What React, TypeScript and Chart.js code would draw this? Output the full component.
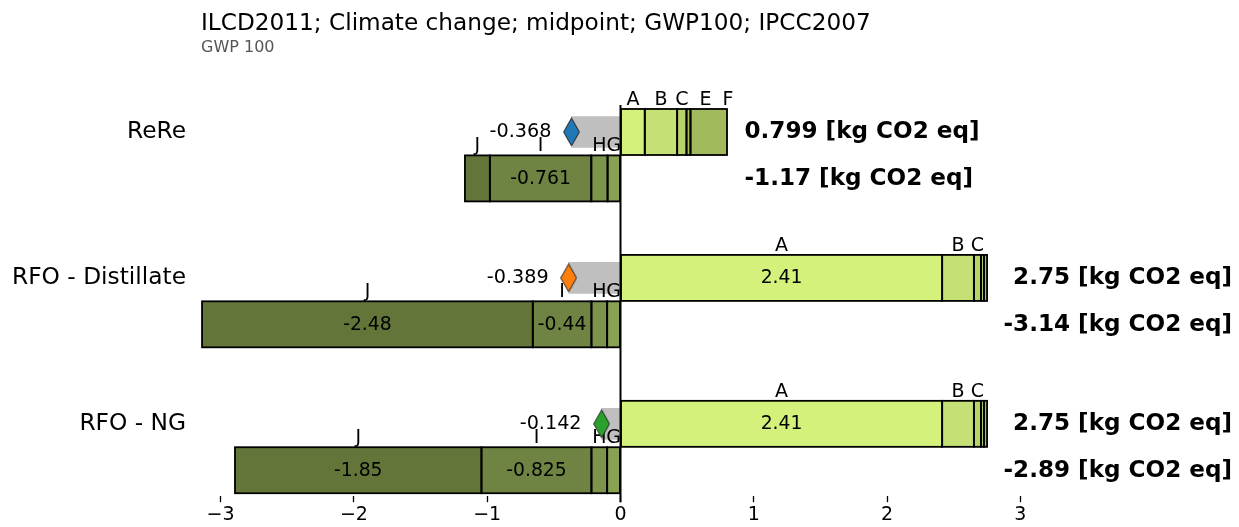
import React, { useEffect, useRef } from 'react';
import { Chart, registerables } from 'chart.js';

Chart.register(...registerables);

const TITLE = 'ILCD2011; Climate change; midpoint; GWP100; IPCC2007';
const SUBTITLE = 'GWP 100';
const UNIT = '[kg CO2 eq]';

const products = ['ReRe', 'RFO - Distillate', 'RFO - NG'];
const posLetters = ['A', 'B', 'C', 'D', 'E', 'F'];
const negLetters = ['G', 'H', 'I', 'J'];

const reRePos = [0.182, 0.243, 0.07, 0, 0.03, 0.274];
const reReNeg = [-0.097, -0.122, -0.761, -0.187];
const distillatePos = [2.413, 0.238, 0.053, 0.023, 0.023, 0];
const distillateNeg = [-0.1, -0.118, -0.44, -2.481];
const ngPos = [2.413, 0.238, 0.053, 0.023, 0.023, 0];
const ngNeg = [-0.1, -0.118, -0.825, -1.849];

const posValues = [reRePos, distillatePos, ngPos];
const negValues = [reReNeg, distillateNeg, ngNeg];

const xTicks = [-3, -2, -1, 0, 1, 2, 3];
const netColors = ['#1f77b4', '#ff7f0e', '#2ca02c'];
const letterColors: Record<string, string> = {
  A: '#d4f27b', B: '#c5e175', C: '#b7d46b', D: '#aac864', E: '#a6bf5f', F: '#a1ba5d',
  G: '#88a153', H: '#7d944d', I: '#6f8343', J: '#637538',
};

const X_MIN = -3.147;
const X_MAX = 3.147;
const Y_MIN = -0.344;
const Y_MAX = 2.337;
const ROW_OFFSET = 0.159;
const FONT = "'DejaVu Sans', sans-serif";
const W = 1239;
const H = 527;

const sum = (a: number[]) => a.reduce((s, v) => s + v, 0);
const fmt3 = (v: number) => String(Number(v.toPrecision(3)));

type Seg = { x: [number, number]; y: number; letter: string; value: number; total: number; color: string; row: string; pos: boolean };
const segs: Seg[] = [];
products.forEach((p, i) => {
  const totP = sum(posValues[i]);
  const totN = sum(negValues[i]);
  let acc = 0;
  posValues[i].forEach((v, j) => {
    if (v === 0) return;
    segs.push({ x: [acc, acc + v], y: i - ROW_OFFSET, letter: posLetters[j], value: v, total: totP, color: letterColors[posLetters[j]], row: i + 'p', pos: true });
    acc += v;
  });
  acc = 0;
  negValues[i].forEach((v, j) => {
    if (v === 0) return;
    segs.push({ x: [acc, acc + v], y: i + ROW_OFFSET, letter: negLetters[j], value: v, total: totN, color: letterColors[negLetters[j]], row: i + 'n', pos: false });
    acc += v;
  });
});
const nets = products.map((p, i) => sum(posValues[i]) + sum(negValues[i]));

function makeDiamond(color: string) {
  const c = document.createElement('canvas');
  c.width = 17;
  c.height = 29;
  const g = c.getContext('2d')!;
  g.beginPath();
  g.moveTo(8.5, 0.6);
  g.lineTo(16.4, 14.5);
  g.lineTo(8.5, 28.4);
  g.lineTo(0.6, 14.5);
  g.closePath();
  g.fillStyle = color;
  g.fill();
  g.lineWidth = 1;
  g.strokeStyle = '#222';
  g.stroke();
  return c;
}

const annot = {
  id: 'annot',
  afterDatasetDraw(chart: any, args: any) {
    if (args.index !== 0) return;
    const { ctx, chartArea, scales } = chart;
    const xs = scales.x;
    const meta = chart.getDatasetMeta(0);
    ctx.save();
    const geo = meta.data.map((el: any) => {
      const p = el.getProps(['x', 'y', 'base', 'height'], true);
      return { l: Math.min(p.x, p.base), r: Math.max(p.x, p.base), y: p.y, h: p.height };
    });
    ctx.strokeStyle = '#000';
    ctx.lineWidth = 1.8;
    geo.forEach((g: any) => ctx.strokeRect(g.l, g.y - g.h / 2, g.r - g.l, g.h));
    const x0 = xs.getPixelForValue(0);
    ctx.lineWidth = 2;
    ctx.beginPath();
    ctx.moveTo(x0, chartArea.top);
    ctx.lineTo(x0, chartArea.bottom + 6);
    ctx.stroke();

    ctx.fillStyle = '#000';
    ctx.textAlign = 'center';
    ctx.textBaseline = 'alphabetic';
    const PAD = 11;
    const TOL = 3;
    let prevRow = '';
    let prevEdge: number | null = null;
    segs.forEach((s, k) => {
      const g = geo[k];
      if (s.row !== prevRow) { prevRow = s.row; prevEdge = null; }
      ctx.font = `19px ${FONT}`;
      if (Math.abs(s.value / s.total) >= 0.01) {
        const w = ctx.measureText(s.letter).width;
        let c = (g.l + g.r) / 2;
        if (s.pos) {
          if (prevEdge !== null && c - w / 2 < prevEdge - TOL) c = prevEdge + PAD + w / 2;
          prevEdge = c + w / 2;
        } else {
          if (prevEdge !== null && c + w / 2 > prevEdge + TOL) c = prevEdge - PAD - w / 2;
          prevEdge = c - w / 2;
        }
        ctx.fillText(s.letter, c, g.y - g.h / 2 - 4);
      }
      ctx.font = `18.8px ${FONT}`;
      const t = fmt3(s.value);
      const tw = ctx.measureText(t).width;
      if (tw + 10 < g.r - g.l) ctx.fillText(t, (g.l + g.r) / 2, g.y + 5.5);
    });
    ctx.restore();
  },
  afterDraw(chart: any) {
    const { ctx, chartArea, scales } = chart;
    const xs = scales.x;
    const ys = scales.y;
    ctx.save();
    ctx.textBaseline = 'alphabetic';
    ctx.fillStyle = '#000';
    ctx.textAlign = 'left';
    ctx.font = `23.2px ${FONT}`;
    ctx.fillText(TITLE, chartArea.left, 29.5);
    ctx.fillStyle = '#555';
    ctx.font = `16px ${FONT}`;
    ctx.fillText(SUBTITLE, chartArea.left, 51.5);

    products.forEach((p, i) => {
      const yP = ys.getPixelForValue(i - ROW_OFFSET);
      const yN = ys.getPixelForValue(i + ROW_OFFSET);
      ctx.fillStyle = '#000';
      ctx.textAlign = 'right';
      ctx.font = `23.3px ${FONT}`;
      ctx.fillText(p, chartArea.left - 15, yP + 6.5);

      ctx.font = `19.2px ${FONT}`;
      ctx.fillText(fmt3(nets[i]), xs.getPixelForValue(nets[i]) - 20, yP + 5.5);

      ctx.font = `bold 23.1px ${FONT}`;
      const tP = fmt3(sum(posValues[i])) + ' ' + UNIT;
      const tN = fmt3(sum(negValues[i])) + ' ' + UNIT;
      const start = xs.getPixelForValue(sum(posValues[i])) + 17.5;
      const maxW = Math.max(ctx.measureText(tP).width, ctx.measureText(tN).width);
      if (start + maxW > W - 7) {
        ctx.textAlign = 'right';
        ctx.fillText(tP, W - 7, yP + 6.5);
        ctx.fillText(tN, W - 7, yN + 6.5);
      } else {
        ctx.textAlign = 'left';
        ctx.fillText(tP, start, yP + 6.5);
        ctx.fillText(tN, start, yN + 6.5);
      }
    });
    ctx.restore();
  },
};

export default function App() {
  const ref = useRef<HTMLCanvasElement>(null);
  useEffect(() => {
    document.body.style.margin = '0';
    const canvas = ref.current!;
    const diamonds = netColors.map(makeDiamond);
    const chart = new Chart(canvas, {
      type: 'bar',
      data: {
        datasets: [
          {
            type: 'bar',
            data: segs.map((s) => ({ x: s.x, y: s.y })) as any,
            backgroundColor: segs.map((s) => s.color),
            borderWidth: 0,
            barThickness: 46,
            stack: 'all',
            order: 2,
          } as any,
          {
            type: 'bar',
            data: products.map((p, i) => ({ x: [nets[i], 0], y: i - ROW_OFFSET })) as any,
            backgroundColor: '#bfbfbf',
            borderWidth: 0,
            barThickness: 31,
            stack: 'all',
            order: 3,
          } as any,
          {
            type: 'scatter',
            data: products.map((p, i) => ({ x: nets[i], y: i - ROW_OFFSET })) as any,
            pointStyle: diamonds as any,
            pointRadius: 10,
            showLine: false,
            order: 0,
          } as any,
        ],
      },
      options: {
        indexAxis: 'y',
        animation: false,
        responsive: false,
        devicePixelRatio: 1,
        layout: { padding: { left: 201, right: 199, top: 105, bottom: 0 } },
        plugins: {
          legend: { display: false },
          tooltip: { enabled: false },
          title: { display: false },
        },
        scales: {
          x: {
            type: 'linear',
            min: X_MIN,
            max: X_MAX,
            stacked: false,
            grid: { display: true, drawOnChartArea: false, drawTicks: true, tickLength: 6, tickWidth: 1.3, tickColor: '#000' },
            border: { display: false },
            afterBuildTicks: (s: any) => { s.ticks = xTicks.map((v) => ({ value: v })); },
            ticks: {
              color: '#000',
              font: { family: FONT, size: 19 },
              padding: 1,
              maxRotation: 0,
              autoSkip: false,
              callback: (v: any) => (v < 0 ? '\u2212' + Math.abs(v) : String(v)),
            },
          },
          y: {
            type: 'linear',
            min: Y_MIN,
            max: Y_MAX,
            reverse: true,
            display: false,
            offset: false,
          },
        },
      } as any,
      plugins: [annot],
    });
    return () => chart.destroy();
  }, []);
  return (
    <div style={{ width: W, height: H }}>
      <canvas ref={ref} width={W} height={H} style={{ display: 'block' }} />
    </div>
  );
}
